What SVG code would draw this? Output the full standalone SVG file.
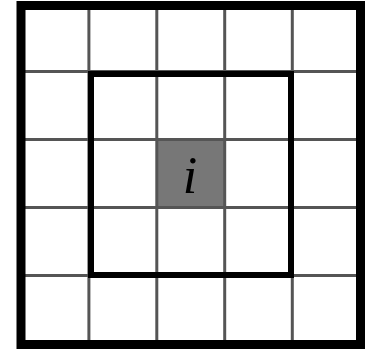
<svg xmlns="http://www.w3.org/2000/svg" width="369" height="349" viewBox="0 0 369 349">
<style>
.thin{stroke:#555;stroke-width:3;fill:none}
.outer{stroke:#000;stroke-width:9;fill:none}
.inner{stroke:#000;stroke-width:6;fill:none}
.lbl{font-family:"Liberation Serif",serif;font-style:italic;font-size:52px;fill:#000}
</style>
<rect width="369" height="349" fill="#fff"/>
<g id="center-cell">
<rect x="157" y="140" width="67" height="67" fill="#777"/>
<text class="lbl" x="190" y="193" text-anchor="middle">i</text>
</g>
<g id="grid">
<line class="thin" x1="88.9" y1="5" x2="88.9" y2="344"/>
<line class="thin" x1="156.8" y1="5" x2="156.8" y2="344"/>
<line class="thin" x1="224.7" y1="5" x2="224.7" y2="344"/>
<line class="thin" x1="292.3" y1="5" x2="292.3" y2="344"/>
<line class="thin" x1="21" y1="71.5" x2="360.5" y2="71.5"/>
<line class="thin" x1="21" y1="139.5" x2="360.5" y2="139.5"/>
<line class="thin" x1="21" y1="207.5" x2="360.5" y2="207.5"/>
<line class="thin" x1="21" y1="275.5" x2="360.5" y2="275.5"/>
</g>
<g id="inner-box">
<rect class="inner" x="91" y="74" width="200" height="201"/>
</g>
<g id="outer-box">
<rect class="outer" x="21" y="5.5" width="339.5" height="339"/>
</g>
</svg>
